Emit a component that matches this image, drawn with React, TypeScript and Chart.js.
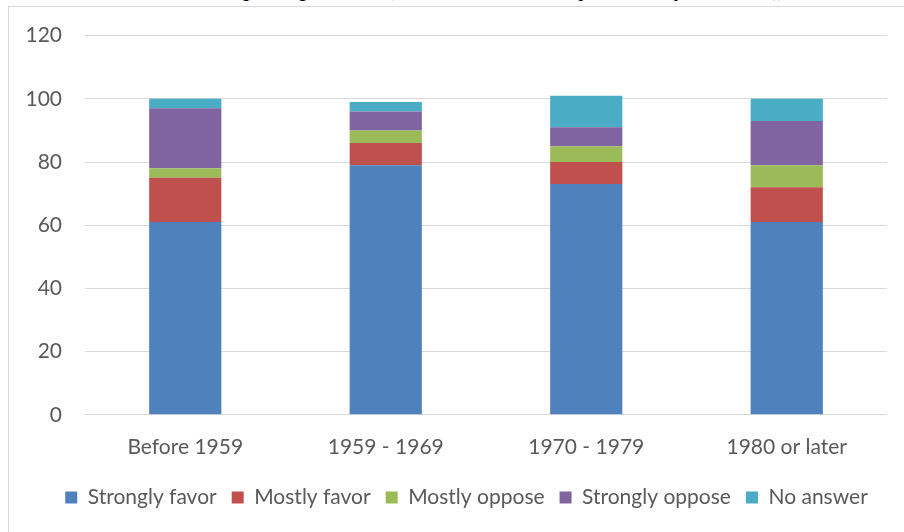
import React, { useEffect, useRef } from "react";
import { Chart, registerables } from "chart.js";

Chart.register(...registerables);

const categories = ["Before 1959", "1959 - 1969", "1970 - 1979", "1980 or later"];
const strongFavor = [61, 79, 73, 61];
const mostlyFavor = [14, 7, 7, 11];
const mostlyOppose = [3, 4, 5, 7];
const strongOppose = [19, 6, 6, 14];
const noAnswer = [3, 3, 10, 7];
const seriesNames = ["Strongly favor", "Mostly favor", "Mostly oppose", "Strongly oppose", "No answer"];
const seriesColors = ["#4F81BD", "#C0504D", "#9BBB59", "#8064A2", "#4BACC6"];
const captionText =
  "Attitudes on marriage among the cohorts (Source: the national data report on the major views, 2013)),";

const shiftLegend = {
  id: "shiftLegend",
  afterLayout(chart: any) {
    if (chart.legend) {
      chart.legend.left += 11;
      chart.legend.right += 11;
    }
  },
};

export default function App() {
  const ref = useRef<HTMLCanvasElement | null>(null);
  useEffect(() => {
    if (!ref.current) return;
    const values = [strongFavor, mostlyFavor, mostlyOppose, strongOppose, noAnswer];
    const font = { family: "Lato, 'Open Sans', sans-serif", size: 21 };
    const chart = new Chart(ref.current, {
      type: "bar",
      data: {
        labels: categories,
        datasets: values.map((v, i) => ({
          label: seriesNames[i],
          data: v,
          backgroundColor: seriesColors[i],
          borderWidth: 0,
          categoryPercentage: 1,
          barPercentage: 0.36,
        })),
      },
      plugins: [shiftLegend],
      options: {
        animation: false,
        responsive: false,
        maintainAspectRatio: false,
        layout: { padding: { left: 24, right: 17, top: 28, bottom: 14 } },
        plugins: {
          tooltip: { enabled: false },
          legend: {
            position: "bottom",
            labels: {
              boxWidth: 12,
              boxHeight: 12,
              padding: 15,
              color: "#595959",
              font,
            },
          },
        },
        scales: {
          x: {
            stacked: true,
            grid: { display: false },
            border: { display: false },
            ticks: { color: "#595959", font, padding: 12 },
          },
          y: {
            stacked: true,
            min: 0,
            max: 120,
            grid: { color: "#d9d9d9", lineWidth: 1, drawTicks: false },
            border: { display: false },
            ticks: { stepSize: 20, color: "#595959", font, padding: 23 },
            afterFit: (axis: any) => {
              axis.width = 61;
            },
          },
        },
      },
    });
    return () => chart.destroy();
  }, []);
  return (
    <div style={{ position: "absolute", left: 0, top: 0, width: 904, height: 532, overflow: "hidden", background: "#fff" }}>
      <div
        style={{
          position: "absolute",
          left: 0,
          top: -17,
          width: 904,
          textAlign: "center",
          whiteSpace: "nowrap",
          font: "italic bold 16px 'Liberation Serif', serif",
          color: "#000",
        }}
      >
        {captionText}
      </div>
      <div
        style={{
          position: "absolute",
          left: 8,
          top: 6,
          width: 910,
          height: 540,
          border: "1px solid #d9d9d9",
          boxSizing: "border-box",
        }}
      />
      <canvas ref={ref} width={904} height={532} style={{ position: "absolute", left: 0, top: 0 }} />
    </div>
  );
}
